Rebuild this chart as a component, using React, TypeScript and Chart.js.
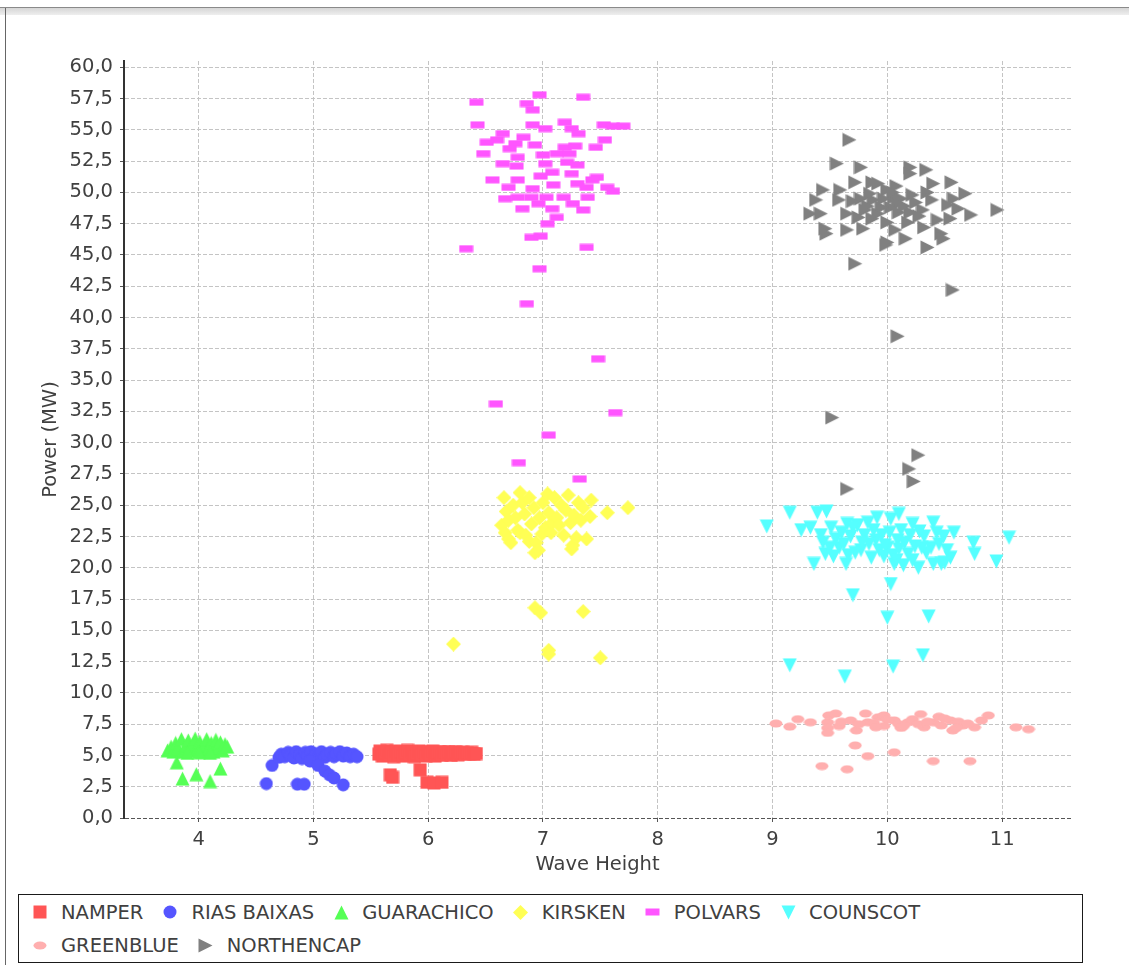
import React, { useEffect, useMemo, useRef } from "react";
import { Chart, registerables } from "chart.js";

Chart.register(...registerables);

type Pt = [number, number];

const seriesNames = ["NAMPER", "RIAS BAIXAS", "GUARACHICO", "KIRSKEN", "POLVARS", "COUNSCOT", "GREENBLUE", "NORTHENCAP"];
const seriesColors = ["#ff5555", "#5555ff", "#55ff55", "#ffff55", "#ff55ff", "#55ffff", "#ffafaf", "#808080"];
const seriesShapes = ["square", "circle", "triangleUp", "diamond", "hRect", "triangleDown", "ellipse", "triangleRight"];

const xAxisTitle = "Wave Height";
const yAxisTitle = "Power (MW)";
const xRange = [3.35, 11.6];
const yRange = [0, 60.5];
const yStep = 2.5;
const xStep = 1;

const namper: Pt[] = [
  [5.57, 5.1], [5.58, 5.35], [5.6, 4.95], [5.62, 5.2], [5.64, 5.4], [5.66, 5.0], [5.68, 5.25], [5.7, 4.9],
  [5.72, 5.35], [5.74, 5.1], [5.76, 5.3], [5.78, 4.95], [5.8, 5.2], [5.82, 5.4], [5.84, 5.05], [5.86, 5.3],
  [5.88, 4.9], [5.9, 5.15], [5.92, 5.35], [5.94, 5.0], [5.96, 5.25], [5.98, 4.95], [6.0, 5.3], [6.02, 5.1],
  [6.04, 5.35], [6.06, 4.95], [6.08, 5.2], [6.1, 5.3], [6.12, 5.0], [6.14, 5.25], [6.16, 5.1], [6.18, 5.3],
  [6.2, 5.0], [6.22, 5.2], [6.24, 5.3], [6.26, 5.05], [6.28, 5.2], [6.3, 5.25], [6.32, 5.1], [6.34, 5.2],
  [6.36, 5.15], [6.38, 5.25], [6.4, 5.1], [6.42, 5.15],
  [5.67, 3.45], [5.69, 3.25], [5.93, 3.85], [5.99, 2.85], [6.05, 2.8], [6.12, 2.85],
];

const riasBaixas: Pt[] = [
  [4.64, 4.2], [4.7, 4.85], [4.72, 5.1], [4.75, 4.9], [4.78, 5.25], [4.8, 5.0], [4.83, 4.8], [4.85, 5.3],
  [4.88, 5.05], [4.9, 4.75], [4.93, 5.25], [4.95, 4.95], [4.98, 5.3], [5.0, 4.8], [5.02, 5.1], [5.05, 4.95],
  [5.07, 5.3], [5.1, 4.85], [5.12, 5.1], [5.15, 5.25], [5.18, 4.9], [5.2, 5.15], [5.23, 5.3], [5.26, 4.95],
  [5.29, 5.2], [5.32, 4.9], [5.35, 5.1], [5.38, 4.9],
  [4.97, 4.55], [5.04, 4.2], [5.1, 3.75], [5.14, 3.45], [5.18, 3.2],
  [4.59, 2.75], [4.86, 2.7], [4.92, 2.7], [5.26, 2.65],
];

const guarachico: Pt[] = [
  [3.73, 5.4], [3.76, 5.7], [3.78, 5.3], [3.8, 6.0], [3.82, 5.5], [3.85, 6.3], [3.87, 5.3], [3.89, 5.8],
  [3.91, 6.2], [3.93, 5.4], [3.95, 5.9], [3.97, 6.35], [3.99, 5.5], [4.01, 6.1], [4.03, 5.3], [4.05, 5.8],
  [4.07, 6.3], [4.09, 5.5], [4.11, 6.0], [4.13, 5.3], [4.15, 6.25], [4.17, 5.6], [4.19, 6.05], [4.21, 5.4],
  [4.23, 5.9], [4.25, 5.7], [3.9, 5.2], [4.0, 5.25], [4.1, 5.2],
  [3.81, 4.45], [3.86, 3.15], [3.98, 3.5], [4.1, 2.95], [4.19, 3.95],
];

const kirsken: Pt[] = [
  [6.64, 23.4], [6.66, 25.6], [6.67, 22.8], [6.68, 24.5], [6.7, 23.8], [6.7, 22.3], [6.72, 22.0], [6.74, 25.0],
  [6.76, 24.0], [6.78, 23.0], [6.8, 26.0], [6.8, 22.8], [6.82, 25.2], [6.84, 24.3], [6.85, 22.6], [6.88, 25.6],
  [6.88, 22.1], [6.9, 23.5], [6.92, 24.8], [6.93, 21.2], [6.94, 22.0], [6.96, 21.4], [6.97, 24.0], [6.99, 22.7],
  [7.0, 25.2], [7.02, 23.2], [7.04, 25.9], [7.05, 24.4], [7.07, 22.8], [7.08, 23.6], [7.1, 25.6], [7.12, 24.0],
  [7.14, 23.4], [7.16, 25.0], [7.18, 22.6], [7.2, 24.6], [7.22, 25.8], [7.24, 23.6], [7.25, 21.5], [7.26, 21.8],
  [7.27, 24.2], [7.29, 22.4], [7.31, 25.2], [7.33, 23.8], [7.35, 24.8], [7.38, 22.3], [7.41, 24.1], [7.42, 25.4],
  [7.56, 24.4], [7.74, 24.8],
  [6.93, 16.8], [6.98, 16.4], [7.35, 16.5], [6.22, 13.9], [7.05, 13.4], [7.05, 13.1], [7.5, 12.8],
];

const polvars: Pt[] = [
  [6.97, 57.8], [7.35, 57.6], [6.42, 57.2], [6.86, 57.1], [6.91, 56.6], [6.43, 55.4], [6.91, 55.4], [7.02, 55.1],
  [7.19, 55.6], [7.25, 55.1], [7.31, 54.7], [7.53, 55.4], [7.61, 55.3], [7.7, 55.3], [6.65, 54.7], [6.6, 54.2],
  [6.51, 54.0], [6.48, 53.1], [6.83, 54.4], [6.76, 53.9], [6.93, 53.8], [6.71, 53.5], [6.78, 52.8], [7.54, 54.2],
  [7.46, 53.6], [7.19, 53.6], [7.28, 53.7], [7.0, 53.0], [7.12, 53.1], [7.23, 53.1], [6.65, 52.3], [6.77, 52.1],
  [7.02, 52.3], [7.21, 52.4], [7.3, 52.2], [7.08, 51.6], [7.25, 51.5], [6.56, 51.0], [6.78, 51.0], [6.98, 51.3],
  [7.47, 51.2], [7.43, 51.0], [6.7, 50.4], [6.91, 50.3], [7.09, 50.6], [7.3, 50.7], [7.38, 50.4], [7.56, 50.4],
  [7.61, 50.1], [6.67, 49.5], [6.78, 49.6], [6.9, 49.6], [7.03, 49.6], [7.18, 49.6], [7.39, 49.6], [6.82, 48.7],
  [6.96, 49.1], [7.08, 48.7], [7.26, 49.1], [7.35, 48.6], [7.12, 48.0], [7.04, 47.5], [6.9, 46.4], [6.98, 46.5],
  [6.33, 45.5], [7.38, 45.6], [6.97, 43.9], [6.86, 41.1],
  [7.48, 36.7], [6.59, 33.1], [7.63, 32.4], [7.05, 30.6], [6.79, 28.4], [7.32, 27.1],
];

const counscot: Pt[] = [
  [8.95, 23.3], [9.15, 24.4], [9.39, 24.4], [9.47, 24.5], [9.25, 23.0], [9.33, 23.2], [9.51, 23.2], [9.44, 22.0],
  [9.36, 20.3], [9.46, 21.1], [9.58, 21.6], [9.65, 23.5], [9.74, 23.4], [9.68, 22.5], [9.64, 20.3], [9.77, 21.4],
  [9.91, 24.0], [10.03, 23.9], [10.1, 24.3], [10.22, 23.5], [10.4, 23.6], [9.9, 22.2], [10.0, 21.6], [10.09, 22.2],
  [10.06, 20.3], [10.18, 21.1], [10.27, 20.0], [10.32, 22.5], [10.38, 21.6], [10.49, 22.5], [10.58, 22.8], [10.55, 20.8],
  [10.4, 20.3], [10.47, 20.3], [10.75, 22.0], [10.76, 21.1], [10.95, 20.5], [11.06, 22.4],
  [9.55, 22.3], [9.6, 22.8], [9.62, 21.9], [9.7, 23.2], [9.72, 21.2], [9.8, 22.6], [9.84, 21.9], [9.88, 23.0],
  [9.93, 21.4], [9.95, 22.6], [9.97, 20.9], [10.02, 22.8], [10.05, 21.0], [10.08, 20.6], [10.12, 23.0], [10.15, 22.0],
  [10.2, 22.6], [10.24, 21.7], [10.28, 22.9], [10.34, 21.2], [10.45, 21.9], [10.5, 20.4], [9.5, 21.6], [9.42, 22.6],
  [9.53, 20.9], [9.66, 21.0], [9.78, 22.0], [9.86, 20.8], [9.98, 21.8], [10.1, 21.5], [10.14, 20.2], [10.22, 20.6],
  [10.3, 21.6], [10.43, 22.8], [10.52, 21.4], [9.83, 23.6],
  [10.03, 18.7], [9.7, 17.8], [10.0, 16.0], [10.36, 16.1], [10.31, 13.0], [9.15, 12.2], [10.05, 12.1], [9.63, 11.3],
];

const greenblue: Pt[] = [
  [9.03, 7.55], [9.15, 7.3], [9.22, 7.9], [9.33, 7.65], [9.48, 7.65], [9.49, 8.2], [9.55, 8.35], [9.48, 7.2],
  [9.48, 6.8], [9.58, 7.35], [9.68, 7.8], [9.73, 7.0], [9.81, 8.35], [9.83, 7.65], [9.92, 8.05], [9.97, 8.2],
  [9.97, 7.35], [10.06, 7.8], [10.12, 7.2], [10.18, 7.65], [10.29, 8.3], [10.32, 7.25], [10.4, 7.65], [10.45, 8.1],
  [10.55, 7.8], [10.57, 7.0], [10.66, 7.4], [10.76, 7.25], [10.82, 7.8], [10.88, 8.2], [11.12, 7.25], [11.23, 7.1],
  [9.6, 7.7], [9.75, 7.5], [9.88, 7.6], [10.0, 7.85], [10.1, 7.5], [10.22, 7.9], [10.27, 7.5], [10.35, 7.7],
  [10.47, 7.4], [10.5, 7.95], [10.62, 7.7], [10.7, 7.55], [9.9, 7.25], [10.14, 7.35], [10.6, 7.2],
  [9.72, 5.8], [9.83, 4.95], [10.06, 5.25], [9.43, 4.15], [9.65, 3.9], [10.4, 4.55], [10.72, 4.55],
];

const northencap: Pt[] = [
  [9.67, 54.2], [9.56, 52.3], [9.77, 52.0], [10.2, 52.0], [10.2, 51.5], [10.34, 51.8], [10.4, 50.7], [10.56, 50.8],
  [10.68, 49.9], [9.44, 50.2], [9.38, 49.4], [9.33, 48.3], [9.42, 48.3], [9.46, 47.1], [9.47, 46.7], [9.59, 50.2],
  [9.58, 49.4], [9.65, 48.3], [9.65, 47.0], [9.72, 50.8], [9.77, 49.5], [9.81, 48.6], [9.79, 47.1], [9.87, 50.8],
  [9.92, 50.7], [9.88, 49.4], [9.87, 47.9], [10.0, 50.2], [10.06, 49.6], [10.03, 48.8], [10.09, 49.1], [10.1, 48.4],
  [10.0, 46.0], [9.99, 45.8], [10.07, 47.0], [10.16, 46.3], [10.2, 48.4], [10.31, 48.6], [10.35, 50.0], [10.39, 49.4],
  [10.32, 47.2], [10.35, 45.6], [10.44, 47.8], [10.47, 46.7], [10.49, 46.3], [10.53, 49.0], [10.58, 49.5], [10.62, 48.7],
  [10.55, 47.9], [10.73, 48.2], [10.96, 48.6],
  [9.95, 48.8], [10.05, 50.0], [10.12, 49.5], [10.15, 48.9], [9.85, 49.9], [10.25, 49.2], [9.75, 48.0], [10.0, 47.6],
  [10.18, 47.6], [10.28, 48.1], [9.92, 48.3], [9.97, 49.5], [10.08, 50.5], [9.83, 48.9], [10.22, 49.8], [9.7, 49.3],
  [9.72, 44.3], [10.57, 42.2], [10.09, 38.5], [9.52, 32.0], [10.27, 29.0], [10.19, 27.9], [10.23, 26.9], [9.65, 26.3],
];

const seriesData: Pt[][] = [namper, riasBaixas, guarachico, kirsken, polvars, counscot, greenblue, northencap];

const FONT = "'DejaVu Sans', sans-serif";
const FONT_SIZE = 19.5;
const TEXT_COLOR = "#404040";

function markerSize(shape: string): [number, number] {
  if (shape === "hRect") return [15, 8];
  if (shape === "ellipse") return [14, 9];
  if (shape === "square" || shape === "circle") return [14, 14];
  return [15, 15];
}

function makeMarker(shape: string, color: string): HTMLCanvasElement {
  const [w, h] = markerSize(shape);
  const c = document.createElement("canvas");
  c.width = w;
  c.height = h;
  const g = c.getContext("2d")!;
  g.fillStyle = color;
  g.beginPath();
  const cx = w / 2;
  const cy = h / 2;
  switch (shape) {
    case "square":
      g.rect(0.5, 0.5, w - 1, h - 1);
      break;
    case "circle":
      g.arc(cx, cy, w / 2 - 0.5, 0, Math.PI * 2);
      break;
    case "triangleUp":
      g.moveTo(cx, 0.5); g.lineTo(w - 0.5, h - 0.5); g.lineTo(0.5, h - 0.5); g.closePath();
      break;
    case "diamond":
      g.moveTo(cx, 0); g.lineTo(w, cy); g.lineTo(cx, h); g.lineTo(0, cy); g.closePath();
      break;
    case "hRect":
      g.rect(0.5, 0.5, w - 1, h - 1);
      break;
    case "triangleDown":
      g.moveTo(0.5, 0.5); g.lineTo(w - 0.5, 0.5); g.lineTo(cx, h - 0.5); g.closePath();
      break;
    case "ellipse":
      g.ellipse(cx, cy, w / 2 - 0.5, h / 2 - 0.5, 0, 0, Math.PI * 2);
      break;
    case "triangleRight":
      g.moveTo(0.5, 0.5); g.lineTo(w - 0.5, cy); g.lineTo(0.5, h - 0.5); g.closePath();
      break;
  }
  g.fill();
  return c;
}

const fmtComma = (v: number) => v.toFixed(1).replace(".", ",");

function ScatterChart({ markers }: { markers: HTMLCanvasElement[] }) {
  const ref = useRef<HTMLCanvasElement | null>(null);

  useEffect(() => {
    if (!ref.current) return;
    const chart = new Chart(ref.current, {
      type: "scatter",
      data: {
        datasets: seriesNames.map((name, i) => ({
          label: name,
          data: seriesData[i].map(([x, y]) => ({ x, y })),
          pointStyle: markers[i],
          pointRadius: 7,
          pointHoverRadius: 7,
          backgroundColor: seriesColors[i],
          borderColor: seriesColors[i],
          borderWidth: 0,
        })),
      },
      options: {
        responsive: false,
        animation: false,
        events: [],
        layout: { padding: { left: 0, top: 61, right: 58, bottom: 12 } },
        plugins: { legend: { display: false }, tooltip: { enabled: false }, title: { display: false } },
        scales: {
          x: {
            type: "linear",
            position: "bottom",
            min: xRange[0],
            max: xRange[1],
            afterFit: (s: any) => { s.height = 60; },
            ticks: {
              stepSize: xStep,
              includeBounds: false,
              color: TEXT_COLOR,
              font: { family: FONT, size: FONT_SIZE },
              padding: 6,
              maxRotation: 0,
              callback: (v: any) => String(v),
            },
            grid: {
              color: "#c4c4c4",
              lineWidth: 1,
              tickLength: 4,
              tickColor: "#555555",
              tickBorderDash: [],
            } as any,
            border: { display: false, dash: [4, 2] },
            title: {
              display: true,
              text: xAxisTitle,
              color: TEXT_COLOR,
              font: { family: FONT, size: FONT_SIZE },
              padding: { top: 0, bottom: 1 },
            },
          },
          y: {
            type: "linear",
            min: yRange[0],
            max: yRange[1],
            afterFit: (s: any) => { s.width = 124; },
            ticks: {
              stepSize: yStep,
              includeBounds: false,
              color: TEXT_COLOR,
              font: { family: FONT, size: FONT_SIZE },
              padding: 7,
              callback: (v: any) => fmtComma(Number(v)),
            },
            grid: {
              color: (ctx: any) => (ctx.tick && ctx.tick.value === 0 ? "#555555" : "#c4c4c4"),
              lineWidth: 1,
              tickLength: 4,
              tickColor: "#555555",
              tickBorderDash: [],
            } as any,
            border: { display: true, color: "#333333", width: 2, dash: [4, 2] },
            title: {
              display: true,
              text: yAxisTitle,
              color: TEXT_COLOR,
              font: { family: FONT, size: FONT_SIZE },
              padding: { top: 39, bottom: 0 },
            },
          },
        },
      },
    } as any);
    return () => chart.destroy();
  }, [markers]);

  return <canvas ref={ref} width={1129} height={890} style={{ position: "absolute", left: 0, top: 0 }} />;
}

function LegendItem({ i, src, first }: { i: number; src: string; first: boolean }) {
  const [w, h] = markerSize(seriesShapes[i]);
  return (
    <div style={{ display: "flex", alignItems: "center", marginLeft: first ? 14 : 20 }}>
      <div style={{ width: 14, height: 15, display: "flex", alignItems: "center", justifyContent: "center" }}>
        <img src={src} width={w} height={h} style={{ display: "block", flex: "none" }} />
      </div>
      <span style={{ marginLeft: 14, whiteSpace: "nowrap" }}>{seriesNames[i]}</span>
    </div>
  );
}

export default function App() {
  const markers = useMemo(() => seriesShapes.map((s, i) => makeMarker(s, seriesColors[i])), []);
  const urls = useMemo(() => markers.map((m) => m.toDataURL()), [markers]);
  const rows = [[0, 1, 2, 3, 4, 5], [6, 7]];

  return (
    <div style={{ position: "fixed", left: 0, top: 0, width: 1129, height: 965, background: "#ffffff", overflow: "hidden" }}>
      <div style={{ position: "absolute", left: 0, top: 7, width: 1129, height: 1, background: "#8a8a8a" }} />
      <div style={{ position: "absolute", left: 0, top: 8, width: 1129, height: 7, background: "linear-gradient(#d6d6d6, #eeeeee)" }} />
      <div style={{ position: "absolute", left: 5, top: 8, width: 1, height: 957, background: "#666666" }} />
      <ScatterChart markers={markers} />
      <div
        style={{
          position: "absolute",
          left: 18,
          top: 894,
          width: 1063,
          height: 67,
          border: "1px solid #1a1a1a",
          fontFamily: FONT,
          fontSize: FONT_SIZE,
          color: TEXT_COLOR,
        }}
      >
        {rows.map((row, r) => (
          <div key={r} style={{ position: "absolute", left: 0, top: r === 0 ? 5 : 38, height: 24, display: "flex", alignItems: "center" }}>
            {row.map((i, k) => (
              <LegendItem key={i} i={i} src={urls[i]} first={k === 0} />
            ))}
          </div>
        ))}
      </div>
    </div>
  );
}
